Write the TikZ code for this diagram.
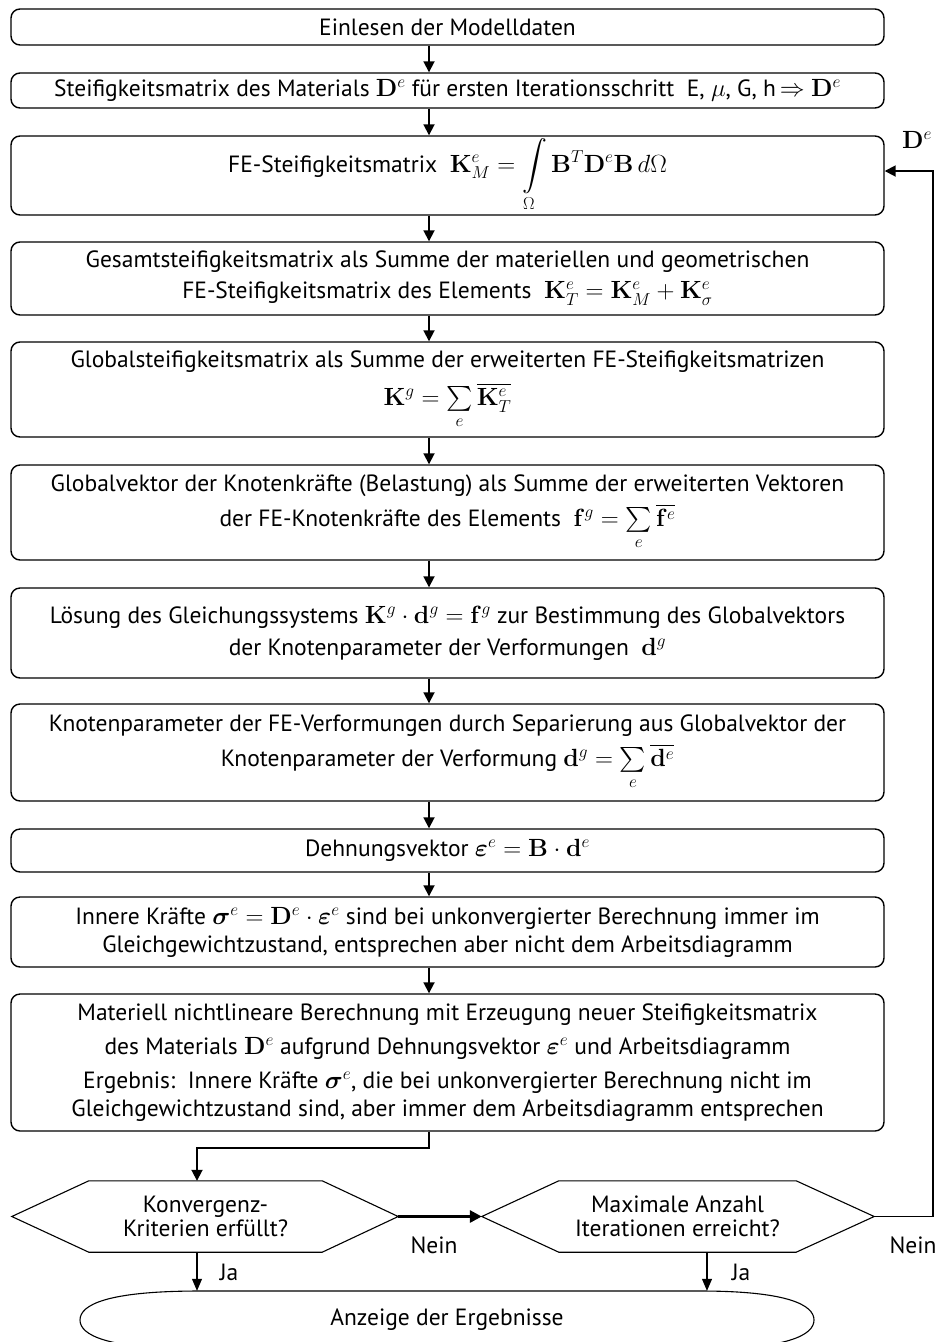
\documentclass[tikz,border=0pt]{standalone}
\usepackage{amsmath}
\usepackage[no-math]{fontspec}
\setmainfont{PT Sans}
\usetikzlibrary{arrows.meta,shapes.geometric}
\begin{document}
\begin{tikzpicture}[x=1pt,y=-1pt,
  txt/.style={font=\fontsize{23.5}{28}\selectfont},
  box/.style={txt,draw=black, line width=1.4pt, rounded corners=9pt, minimum width=873pt,
    inner sep=0pt, align=center},
  flow/.style={line width=1.8pt, -{Triangle[width=11pt,length=11pt]}},
  thinflow/.style={line width=1.1pt, -{Triangle[width=10pt,length=12pt]}},
  boldflow/.style={line width=3.6pt, -{Triangle[width=12pt,length=12pt]}},
  hexa/.style={font=\fontsize{23.5}{24}\selectfont, inner sep=0pt, align=center, minimum height=71pt},
  hexline/.style={line width=1.1pt, line join=miter},
  lab/.style={font=\fontsize{23.5}{24}\selectfont, inner sep=0pt}
]
\useasboundingbox (0,0) rectangle (939,1342);
\fill[white] (0,0) rectangle (939,1342);

\coordinate (cx) at (429,0);
\coordinate (ja1) at (197,0);
\coordinate (ja2) at (707,0);
\coordinate (fb) at (933,0);

\node[box, minimum height=36pt] (b1) at (447.5,27) {Einlesen der Modelldaten};
\node[box, minimum height=35pt] (b2) at (447.5,90.5) {Steifigkeitsmatrix des Materials $\mathbf{D}^e$ für ersten Iterationsschritt\ \ E, $\mu$, G, h\,$\Rightarrow$\ $\mathbf{D}^e$};
\node[box, minimum height=79pt] (b3) at (447.5,175.5) {FE-Steifigkeitsmatrix\ \ $\displaystyle\mathbf{K}^e_M=\int\limits_\Omega\mathbf{B}^T\mathbf{D}^e\mathbf{B}\,d\Omega$};
\node[box, minimum height=73pt] (b4) at (447.5,278.5) {Gesamtsteifigkeitsmatrix als Summe der materiellen und geometrischen\\[3pt] FE-Steifigkeitsmatrix des Elements\ \ $\mathbf{K}^e_T=\mathbf{K}^e_M+\mathbf{K}^e_\sigma$};
\node[box, minimum height=95pt] (b5) at (447.5,389.5) {Globalsteifigkeitsmatrix als Summe der erweiterten FE-Steifigkeitsmatrizen\\[10pt] $\mathbf{K}^g=\sum\limits_e\overline{\mathbf{K}^e_T}$};
\node[box, minimum height=95pt] (b6) at (447.5,512.5) {Globalvektor der Knotenkräfte (Belastung) als Summe der erweiterten Vektoren\\[7pt] der FE-Knotenkräfte des Elements\ \ $\mathbf{f}^g=\sum\limits_e\overline{\mathbf{f}^e}$};
\node[box, minimum height=90pt] (b7) at (447.5,633) {Lösung des Gleichungssystems $\mathbf{K}^g\cdot\mathbf{d}^g=\mathbf{f}^g$ zur Bestimmung des Globalvektors\\[4pt] der Knotenparameter der Verformungen\ \ $\mathbf{d}^g$};
\node[box, minimum height=97pt] (b8) at (447.5,752.5) {Knotenparameter der FE-Verformungen durch Separierung aus Globalvektor der\\[7pt] Knotenparameter der Verformung\ $\mathbf{d}^g=\sum\limits_e\overline{\mathbf{d}^e}$};
\node[box, minimum height=43pt] (b9) at (447.5,850.5) {Dehnungsvektor $\boldsymbol{\varepsilon}^e=\mathbf{B}\cdot\mathbf{d}^e$};
\node[box, minimum height=70pt] (b10) at (447.5,932) {Innere Kräfte $\boldsymbol{\sigma}^e=\mathbf{D}^e\cdot\boldsymbol{\varepsilon}^e$ sind bei unkonvergierter Berechnung immer im\\ Gleichgewichtzustand, entsprechen aber nicht dem Arbeitsdiagramm};
\node[box, minimum height=137pt] (b11) at (447.5,1062.5) {Materiell nichtlineare Berechnung mit Erzeugung neuer Steifigkeitsmatrix\\[6pt] des Materials $\mathbf{D}^e$ aufgrund Dehnungsvektor $\boldsymbol{\varepsilon}^e$ und Arbeitsdiagramm\\[6pt] Ergebnis:\ \ Innere Kräfte $\boldsymbol{\sigma}^e$, die bei unkonvergierter Berechnung nicht im\\ Gleichgewichtzustand sind, aber immer dem Arbeitsdiagramm entsprechen};

% decision hexagons
\node[hexa, minimum width=233pt] (k1) at (205.5,1216.5) {Konvergenz-\\Kriterien erfüllt?};
\node[hexa, minimum width=237pt] (k2) at (677.5,1216.5) {Maximale Anzahl\\Iterationen erreicht?};
\coordinate (k1l) at ([xshift=-77pt]k1.west);
\coordinate (k1r) at ([xshift=76pt]k1.east);
\coordinate (k2l) at ([xshift=-77pt]k2.west);
\coordinate (k2r) at ([xshift=78pt]k2.east);
\draw[hexline] (k1.north west) -- (k1.north east) -- (k1r) -- (k1.south east) -- (k1.south west) -- (k1l) -- cycle;
\draw[hexline] (k2.north west) -- (k2.north east) -- (k2r) -- (k2.south east) -- (k2.south west) -- (k2l) -- cycle;

% terminal
\node[txt, inner sep=0pt, minimum width=734pt, minimum height=58pt] (e) at (447,1320) {Anzeige der Ergebnisse};
\draw[line width=1.1pt] (200,1291) -- (700,1291) .. controls (788,1291) and (814,1305) .. (814,1320)
  .. controls (814,1335) and (788,1349) .. (700,1349) -- (200,1349)
  .. controls (106,1349) and (80,1335) .. (80,1320) .. controls (80,1305) and (106,1291) .. (200,1291) -- cycle;

% connectors
\draw[flow] (cx |- b1.south) -- (cx |- b2.north);
\draw[flow] (cx |- b2.south) -- (cx |- b3.north);
\draw[flow] (cx |- b3.south) -- (cx |- b4.north);
\draw[flow] (cx |- b4.south) -- (cx |- b5.north);
\draw[flow] (cx |- b5.south) -- (cx |- b6.north);
\draw[flow] (cx |- b6.south) -- (cx |- b7.north);
\draw[flow] (cx |- b7.south) -- (cx |- b8.north);
\draw[flow] (cx |- b8.south) -- (cx |- b9.north);
\draw[flow] (cx |- b9.south) -- (cx |- b10.north);
\draw[flow] (cx |- b10.south) -- (cx |- b11.north);
\draw[flow] (cx |- b11.south) -- ++(0,16) -| (ja1 |- k1.north);
\draw[boldflow] (k1r) -- (k2l);
\draw[flow] (k2r) -- (fb |- k2r) |- ([yshift=4.5pt]b3.east);
\draw[thinflow] (ja1 |- k1.south) -- (ja1 |- e.north);
\draw[thinflow] (ja2 |- k2.south) -- (ja2 |- e.north);

% labels
\node[inner sep=0pt, font=\fontsize{26}{28}\selectfont] (dl) at (917,140) {$\mathbf{D}^e$};
\node[lab] (n1) at (434,1245) {Nein};
\node[lab] (n2) at (913,1245) {Nein};
\node[lab] (j1) at (229,1272) {Ja};
\node[lab] (j2) at (741,1272) {Ja};
\end{tikzpicture}
\end{document}
